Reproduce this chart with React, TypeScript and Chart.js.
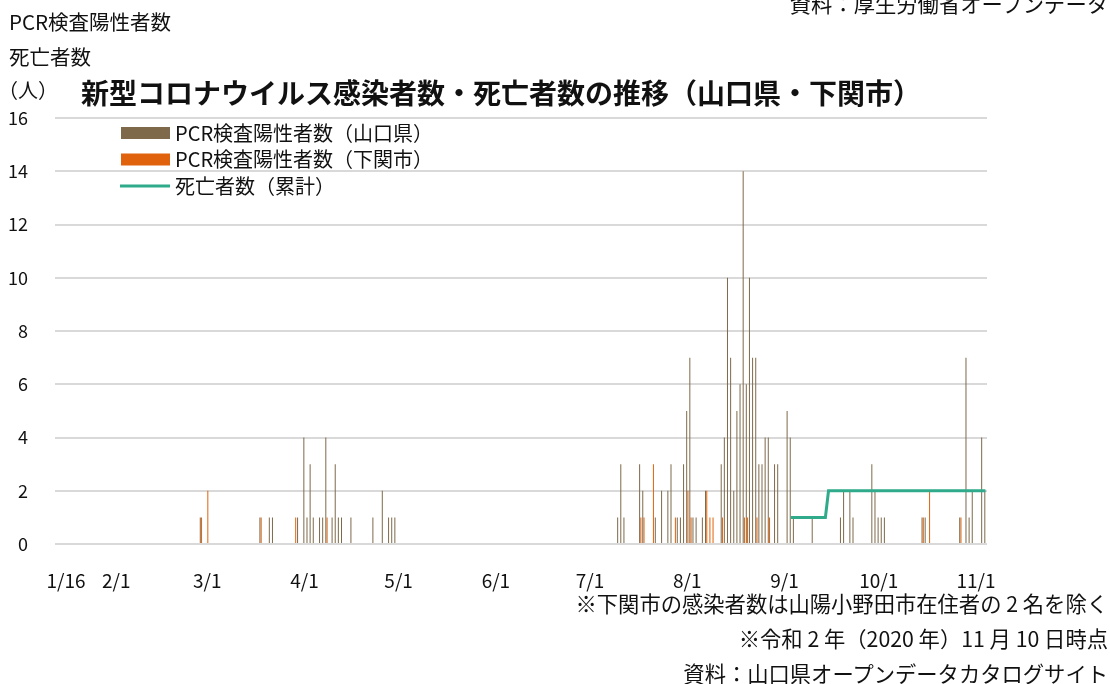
import React, { useEffect, useRef } from 'react';
import { Chart, registerables } from 'chart.js';

Chart.register(...registerables);

const FONT = '"Noto Sans CJK JP", "Noto Sans", sans-serif';

// Category range (daily)
const firstDay = [2020, 1, 13];
const lastDay = [2020, 11, 4];

// Dates that carry an x-axis label
const xTickLabels = ['1/16', '2/1', '3/1', '4/1', '5/1', '6/1', '7/1', '8/1', '9/1', '10/1', '11/1'];

// PCR検査陽性者数（山口県）
const yamaguchiDates = [
  '2/28', '3/18', '3/21', '3/22', '3/30', '4/1', '4/2', '4/3', '4/4', '4/6', '4/7', '4/8', '4/10', '4/11',
  '4/12', '4/13', '4/16', '4/23', '4/26', '4/28', '4/29', '4/30',
  '7/10', '7/11', '7/12', '7/17', '7/18', '7/22', '7/24', '7/26', '7/27', '7/29', '7/30', '7/31',
  '8/1', '8/2', '8/3', '8/4', '8/6', '8/7', '8/12', '8/13', '8/14', '8/15', '8/16', '8/17', '8/18',
  '8/19', '8/20', '8/21', '8/22', '8/23', '8/24', '8/25', '8/26', '8/27', '8/29', '8/30',
  '9/2', '9/3', '9/4', '9/10', '9/19', '9/20', '9/22', '9/23', '9/29', '9/30', '10/1', '10/2', '10/3',
  '10/15', '10/16', '10/27', '10/29', '10/30', '10/31', '11/3', '11/4',
];
const yamaguchiCounts = [
  1, 1, 1, 1, 1, 4, 1, 3, 1, 1, 1, 4, 1, 3,
  1, 1, 1, 1, 2, 1, 1, 1,
  1, 3, 1, 3, 2, 1, 2, 2, 3, 1, 1, 3,
  5, 7, 1, 1, 1, 2, 3, 4, 10, 7, 2, 5, 6,
  14, 6, 10, 7, 7, 3, 3, 4, 4, 3, 3,
  5, 4, 1, 1, 1, 2, 2, 1, 3, 2, 1, 1, 1,
  1, 1, 1, 7, 1, 2, 4, 2,
];

// PCR検査陽性者数（下関市）
const shimonosekiDates = [
  '2/28', '3/1', '3/18', '3/29', '4/8', '7/17', '7/18', '7/21', '7/28', '8/1', '8/2', '8/7', '8/8',
  '8/9', '8/12', '8/19', '8/20', '8/23', '8/27', '10/15', '10/17', '10/27',
];
const shimonosekiCounts = [
  1, 2, 1, 1, 1, 1, 1, 3, 1, 2, 1, 2, 1,
  1, 1, 1, 1, 1, 1, 1, 2, 1,
];

// 死亡者数（累計）
const deathDates = ['9/3', '9/15'];
const deathTotals = [1, 2];

// y axis
const yMin = 0;
const yMax = 16;
const yStep = 2;

const BROWN = '#7E6A4A';
const ORANGE = '#E0620D';
const GREEN = '#2FAA8A';
const TEXT = '#111111';

function buildDays(): string[] {
  const out: string[] = [];
  const d = new Date(firstDay[0], firstDay[1] - 1, firstDay[2]);
  const end = new Date(lastDay[0], lastDay[1] - 1, lastDay[2]);
  while (d <= end) {
    out.push(`${d.getMonth() + 1}/${d.getDate()}`);
    d.setDate(d.getDate() + 1);
  }
  return out;
}

function toDaily(days: string[], dates: string[], counts: number[]): (number | null)[] {
  return days.map((day) => {
    const k = dates.indexOf(day);
    return k >= 0 ? counts[k] : null;
  });
}

function toCumulative(days: string[], dates: string[], totals: number[]): (number | null)[] {
  let current: number | null = null;
  return days.map((day) => {
    const k = dates.indexOf(day);
    if (k >= 0) current = totals[k];
    return current;
  });
}

const insideLegend = {
  id: 'insideLegend',
  afterDatasetsDraw(chart: any) {
    const { ctx, chartArea } = chart;
    const rows = [1, 2, 0];
    const x0 = chartArea.left + 66;
    const y0 = chartArea.top + 15;
    ctx.save();
    ctx.font = `20px ${FONT}`;
    ctx.textBaseline = 'middle';
    ctx.textAlign = 'left';
    rows.forEach((dsIndex, i) => {
      const ds = chart.data.datasets[dsIndex];
      const y = y0 + i * 26.5;
      if (ds.type === 'line') {
        ctx.strokeStyle = ds.borderColor;
        ctx.lineWidth = 3;
        ctx.beginPath();
        ctx.moveTo(x0 - 1, y);
        ctx.lineTo(x0 + 49, y);
        ctx.stroke();
      } else {
        ctx.fillStyle = ds.backgroundColor;
        ctx.fillRect(x0, y - 6, 49, 12);
      }
      ctx.fillStyle = TEXT;
      ctx.fillText(ds.label, x0 + 54, y);
    });
    ctx.restore();
  },
};

export default function App() {
  const canvasRef = useRef<HTMLCanvasElement | null>(null);

  useEffect(() => {
    const canvas = canvasRef.current;
    if (!canvas) return;
    const days = buildDays();
    const chart = new Chart(canvas, {
      type: 'bar',
      data: {
        labels: days,
        datasets: [
          {
            type: 'line',
            label: '死亡者数（累計）',
            data: toCumulative(days, deathDates, deathTotals),
            borderColor: GREEN,
            backgroundColor: GREEN,
            borderWidth: 3,
            pointRadius: 0,
            tension: 0,
            fill: false,
            spanGaps: false,
            order: 0,
          } as any,
          {
            type: 'bar',
            label: 'PCR検査陽性者数（山口県）',
            data: toDaily(days, yamaguchiDates, yamaguchiCounts),
            backgroundColor: BROWN,
            categoryPercentage: 0.8,
            barPercentage: 0.8,
            order: 1,
          },
          {
            type: 'bar',
            label: 'PCR検査陽性者数（下関市）',
            data: toDaily(days, shimonosekiDates, shimonosekiCounts),
            backgroundColor: ORANGE,
            categoryPercentage: 0.8,
            barPercentage: 0.8,
            order: 2,
          },
        ],
      },
      options: {
        responsive: false,
        animation: false,
        devicePixelRatio: 1,
        layout: { padding: { top: 118, right: 123, bottom: 0, left: 0 } },
        plugins: {
          legend: { display: false },
          tooltip: { enabled: false },
          title: { display: false },
        },
        scales: {
          x: {
            offset: true,
            grid: { display: false },
            border: { display: false },
            ticks: {
              autoSkip: false,
              maxRotation: 0,
              minRotation: 0,
              padding: 17,
              color: TEXT,
              font: { family: FONT, size: 19 },
              callback: (_v: any, i: number) => (xTickLabels.includes(days[i]) ? days[i] : ''),
            },
            afterFit: (s: any) => {
              s.height = 140;
            },
          },
          y: {
            min: yMin,
            max: yMax,
            ticks: {
              stepSize: yStep,
              padding: 27,
              color: TEXT,
              font: { family: FONT, size: 18 },
            },
            grid: { color: '#d9d9d9', lineWidth: 2, drawTicks: false },
            border: { display: false },
            afterFit: (s: any) => {
              s.width = 55;
            },
          },
        },
      } as any,
      plugins: [insideLegend],
    });
    return () => chart.destroy();
  }, []);

  const abs = (extra: React.CSSProperties): React.CSSProperties => ({
    position: 'absolute',
    whiteSpace: 'nowrap',
    ...extra,
  });

  return (
    <div
      style={{
        position: 'fixed',
        left: 0,
        top: 0,
        width: 1110,
        height: 684,
        overflow: 'hidden',
        background: '#ffffff',
        fontFamily: FONT,
        color: TEXT,
      }}
    >
      <canvas ref={canvasRef} width={1110} height={684} style={{ position: 'absolute', left: 0, top: 0 }} />
      <div style={abs({ left: 9, top: 11, fontSize: 20.5, lineHeight: '20px' })}>PCR検査陽性者数</div>
      <div style={abs({ left: 9, top: 46, fontSize: 20.5, lineHeight: '20px' })}>死亡者数</div>
      <div style={abs({ left: -2, top: 80, fontSize: 20, lineHeight: '20px' })}>（人）</div>
      <div style={abs({ left: 81, top: 78, fontSize: 28, lineHeight: '28px', fontWeight: 700 })}>
        新型コロナウイルス感染者数・死亡者数の推移（山口県・下関市）
      </div>
      <div style={abs({ right: 2, top: -8, fontSize: 21.3, lineHeight: '21px' })}>資料：厚生労働省オープンデータ</div>
      <div style={abs({ right: 2, top: 592, fontSize: 21.3, lineHeight: '21px' })}>
        ※下関市の感染者数は山陽小野田市在住者の 2 名を除く
      </div>
      <div style={abs({ right: 2, top: 627, fontSize: 21.3, lineHeight: '21px' })}>
        ※令和 2 年（2020 年）11 月 10 日時点
      </div>
      <div style={abs({ right: 2, top: 662, fontSize: 21.3, lineHeight: '21px' })}>
        資料：山口県オープンデータカタログサイト
      </div>
    </div>
  );
}
